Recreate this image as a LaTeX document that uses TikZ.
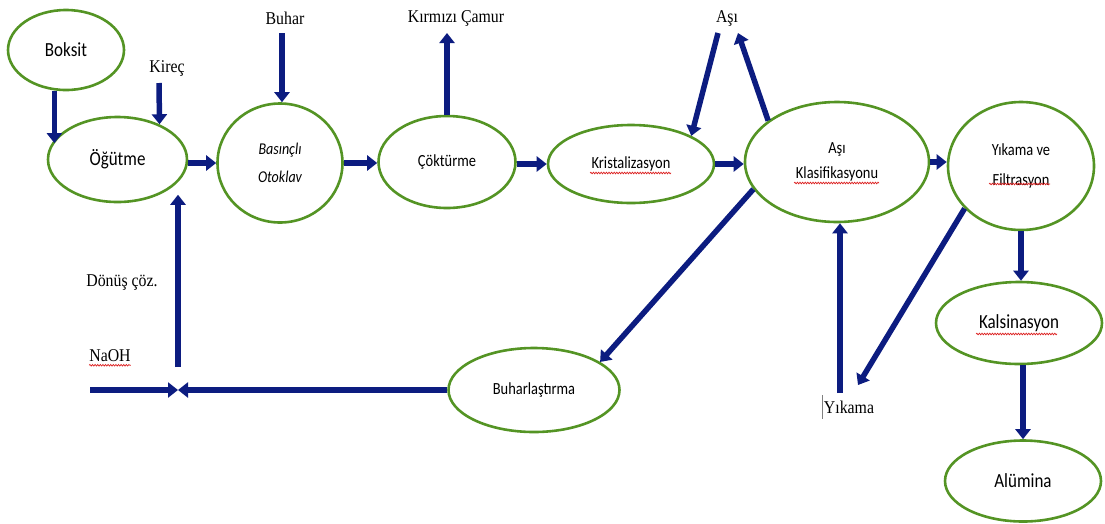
\documentclass[tikz,border=0pt]{standalone}
\usepackage{fontspec}
\setmainfont{Carlito}[FakeStretch=0.85]
\newfontfamily\lblfont{Liberation Serif}[FakeStretch=0.88]
\usetikzlibrary{arrows.meta,shapes.geometric,decorations.pathmorphing,calc}
\definecolor{navy}{RGB}{12,28,128}
\definecolor{egreen}{RGB}{84,148,36}
\definecolor{sqred}{RGB}{220,30,30}
\tikzset{
  proc/.style={ellipse, draw=egreen, line width=2.6pt, fill=white, inner sep=0pt,
    align=center, font=\fontsize{17}{25}\selectfont},
  big/.style={font=\fontsize{20}{24}\selectfont},
  lbl/.style={inner sep=0pt, font=\lblfont\fontsize{18}{20}\selectfont},
  flow/.style={draw=navy, line width=5.5pt, -{Triangle[width=15pt,length=10pt]}},
  squig/.style={draw=sqred, line width=0.7pt, decorate,
    decoration={snake, amplitude=0.8pt, segment length=2.6pt}},
}
\begin{document}
\begin{tikzpicture}[x=1pt,y=-1pt]
\useasboundingbox (0,0) rectangle (1105,523);

% process ellipses
\node[proc,big,minimum width=116pt,minimum height=80pt] (boksit) at (66,50) {Boksit};
\node[proc,big,minimum width=139pt,minimum height=85pt] (ogut) at (117.5,159.5) {Öğütme};
\node[proc,minimum width=125pt,minimum height=119pt,font=\itshape\fontsize{16.5}{28}\selectfont] (oto) at (280,163) {Basınçlı\\Otoklav};
\node[proc,minimum width=137pt,minimum height=92pt] (cok) at (447,162) {Çöktürme};
\node[proc,minimum width=166pt,minimum height=78pt] (krist) at (631,164) {Kristalizasyon};
\node[proc,minimum width=184pt,minimum height=120pt] (klas) at (837,162) {Aşı\\Klasifikasyonu};
\node[proc,minimum width=146pt,minimum height=128pt,font=\fontsize{17}{30}\selectfont] (filt) at (1021,166) {Yıkama ve\\Filtrasyon};
\node[proc,big,minimum width=166pt,minimum height=82pt] (kal) at (1019,323) {Kalsinasyon};
\node[proc,big,minimum width=156pt,minimum height=81pt] (alu) at (1023,481) {Alümina};
\node[proc,minimum width=171pt,minimum height=84pt] (buh) at (534,390) {Buharlaştırma};

% labels
\node[lbl] (kirec) at (167,68) {Kireç};
\node[lbl] (buhar) at (285,18) {Buhar};
\node[lbl] (camur) at (456,18) {Kırmızı Çamur};
\node[lbl] (asi) at (727,18) {Aşı};
\node[lbl] (donus) at (122,283) {Dönüş çöz.};
\node[lbl] (naoh) at (110,356) {NaOH};
\node[lbl] (yikama) at (849,407) {Yıkama};

% free ends
\coordinate (kirecA) at (159,83);
\coordinate (buharA) at (282,33);
\coordinate (camurA) at (447,33);
\coordinate (asiA) at (718,33);
\coordinate (asiB) at (738,33);
\coordinate (yikA) at (840,393);
\coordinate (yikB) at (858,385);
\coordinate (join) at (178,390);
\coordinate (naohA) at (90,390);
\coordinate (donA) at (178,367);

% connectors
\draw[flow] (boksit.-106) -- (boksit.-106 |- ogut.166);
\draw[flow] (kirecA) -- (ogut.40);
\draw[flow] (ogut.east |- oto.west) -- (oto.west);
\draw[flow] (buharA) -- (buharA |- oto.north);
\draw[flow] (oto.east) -- (cok.west |- oto.east);
\draw[flow] (cok.north) -- (camurA);
\draw[flow] (cok.east |- krist.west) -- (krist.west);
\draw[flow] (asiA) -- (krist.25);
\draw[flow] (klas.149) -- (asiB);
\draw[flow] (krist.east) -- (krist.east -| klas.west);
\draw[flow] (klas.east) -- (klas.east -| filt.west);
\draw[flow] (klas.198) -- (buh.23);
\draw[flow] (yikA) -- (yikA |- klas.south);
\draw[flow] (filt.217) -- (yikB);
\draw[flow] (filt.south) -- (filt.south |- kal.north);
\draw[flow] (alu.north |- kal.south) -- (alu.north);
\draw[flow] (buh.west) -- (join);
\draw[flow] (naohA) -- (join);
\draw[flow] (donA) -- (donA |- ogut.-40);

% spelling marks and cursor
\draw[squig] ($(krist)+(-41,9)$) -- ($(krist)+(40,9)$);
\draw[squig] ($(klas)+(-43,21)$) -- ($(klas)+(42,21)$);
\draw[squig] ($(filt)+(-32,18)$) -- ($(filt)+(29,18)$);
\draw[squig] ($(kal)+(-43,11)$) -- ($(kal)+(38,11)$);
\draw[squig] ($(naoh.south west)+(0,3)$) -- ($(naoh.south east)+(0,3)$);
\draw[gray, line width=0.6pt] ($(yikama.west)+(-1,-12)$) -- ($(yikama.west)+(-1,12)$);
\end{tikzpicture}
\end{document}
